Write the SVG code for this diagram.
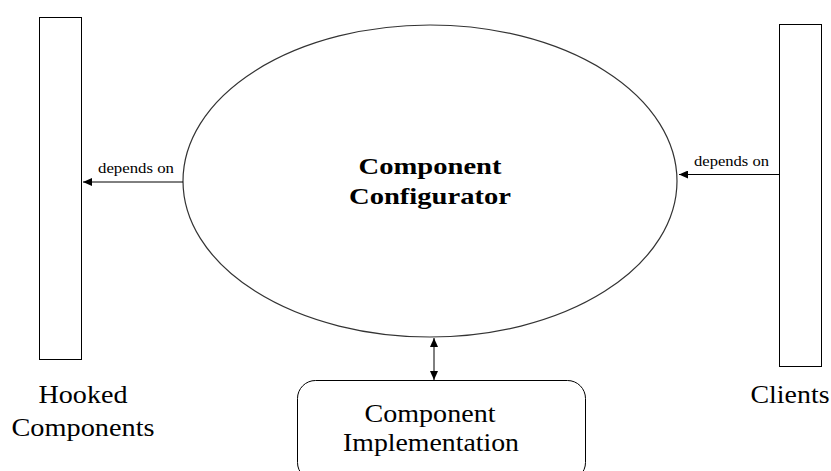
<svg xmlns="http://www.w3.org/2000/svg" width="831" height="471" viewBox="0 0 831 471">
<style>
.box{fill:#fff;stroke:#000;stroke-width:1}
.ell{fill:#fff;stroke:#333;stroke-width:1.2}
.t{font-family:'Liberation Serif','Tinos','Times New Roman','DejaVu Serif',serif;fill:#000}
.edge{stroke:#000;stroke-width:1;fill:none}
</style>
<defs>
<marker id="ah" markerWidth="10" markerHeight="8" refX="9" refY="4" orient="auto" markerUnits="userSpaceOnUse">
<path d="M0,0 L9,4 L0,8 Z" fill="#000"/>
</marker>
<marker id="ahs" markerWidth="10" markerHeight="8" refX="1" refY="4" orient="auto" markerUnits="userSpaceOnUse">
<path d="M10,0 L1,4 L10,8 Z" fill="#000"/>
</marker>
</defs>
<rect width="831" height="471" fill="#fff"/>
<g id="hooked">
<rect class="box" x="39.5" y="17.5" width="42" height="342"/>
<text class="t" x="83" y="403" font-size="26" text-anchor="middle" textLength="89" lengthAdjust="spacingAndGlyphs">Hooked</text>
<text class="t" x="83" y="436" font-size="26" text-anchor="middle" textLength="143" lengthAdjust="spacingAndGlyphs">Components</text>
</g>
<g id="clients">
<rect class="box" x="779.5" y="24.5" width="42" height="342"/>
<text class="t" x="790" y="403" font-size="26" text-anchor="middle" textLength="79" lengthAdjust="spacingAndGlyphs">Clients</text>
</g>
<g id="configurator">
<ellipse class="ell" cx="430" cy="181" rx="247" ry="156"/>
<text class="t" x="430" y="174" font-size="23" font-weight="bold" text-anchor="middle" textLength="143" lengthAdjust="spacingAndGlyphs">Component</text>
<text class="t" x="430" y="204" font-size="23" font-weight="bold" text-anchor="middle" textLength="162" lengthAdjust="spacingAndGlyphs">Configurator</text>
</g>
<g id="implementation">
<rect class="box" x="297.5" y="380.5" width="288" height="100" rx="18" ry="18"/>
<text class="t" x="430" y="422" font-size="26" text-anchor="middle" textLength="131" lengthAdjust="spacingAndGlyphs">Component</text>
<text class="t" x="431" y="451" font-size="26" text-anchor="middle" textLength="176" lengthAdjust="spacingAndGlyphs">Implementation</text>
</g>
<g id="connectors">
<line class="edge" x1="183" y1="182" x2="83" y2="182" marker-end="url(#ah)"/>
<text class="t" x="98" y="173" font-size="15" textLength="76" lengthAdjust="spacingAndGlyphs">depends on</text>
<line class="edge" x1="779" y1="174.5" x2="679" y2="174.5" marker-end="url(#ah)"/>
<text class="t" x="694" y="166" font-size="15" textLength="75" lengthAdjust="spacingAndGlyphs">depends on</text>
<line class="edge" x1="434" y1="338" x2="434" y2="380" marker-start="url(#ahs)" marker-end="url(#ah)"/>
</g>
</svg>
